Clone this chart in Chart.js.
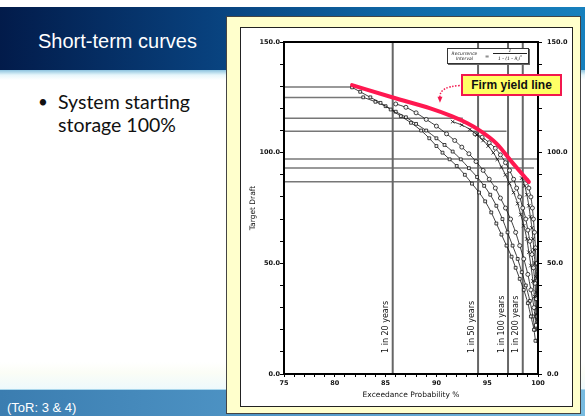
<!DOCTYPE html>
<html lang="en">
<head>
  <meta charset="UTF-8" />
  <title>Short-term curves</title>
  <script src="https://cdn.jsdelivr.net/npm/chart.js@4.4.1/dist/chart.umd.min.js"></script>
  <style>
    html, body { margin: 0; padding: 0; }
    body { width: 585px; height: 416px; position: relative; overflow: hidden; background: #fff; font-family: "Liberation Sans", Arial, sans-serif; }
    .banner { position: absolute; left: 0; top: 7px; width: 585px; height: 63px;
      background: linear-gradient(to right, #021b4a 0%, #08407c 35%, #0f6aa8 70%, #1780bd 100%); }
    .glow { position: absolute; left: 0; top: 70px; width: 585px; height: 10px;
      background: linear-gradient(to bottom, #8cc3de 0%, #e6f6fb 50%, #fff 100%); }
    .title { position: absolute; left: 38px; top: 31px; color: #fff; font-size: 20px; line-height: 20px; }
    .bullets { position: absolute; left: 38px; top: 90px; font-family: Lato, "Open Sans", sans-serif; font-size: 19.5px; line-height: 23px; color: #111; }
    .bullets .dot { position: absolute; left: 0; top: 0; font-size: 17px; }
    .bullets .txt { margin-left: 20px; }
    .fade { position: absolute; left: 0; top: 362px; width: 585px; height: 27px;
      background: linear-gradient(to bottom, #fff 0%, #fbfdf6 40%, #eef9fc 100%); }
    .footer { position: absolute; left: 0; top: 389px; width: 585px; height: 27px;
      background: linear-gradient(to right, #3b7db0 0%, #4f95c6 45%, #78bbe0 100%);
      border-top: 1px solid #a9d6ec; box-sizing: border-box; }
    .footer span { position: absolute; left: 7px; top: 10px; color: #fff; font-size: 13px; line-height: 15px; }
    .panel { position: absolute; left: 226px; top: 16px; width: 355px; height: 398px; box-sizing: border-box;
      background: #ffffcc; border: 1px solid #444; }
    .box { position: absolute; left: 240px; top: 27px; width: 331px; height: 378px; border: 1px solid #222; background: #fff; }
    .box canvas { display: block; }
    .firm { position: absolute; left: 461px; top: 74px; width: 101px; height: 22px; box-sizing: border-box;
      border: 2px solid #f2184e; background: #ffff66; font-weight: bold; font-size: 12px; line-height: 18px;
      text-align: center; color: #111; }
    .formula { position: absolute; left: 447px; top: 48px; width: 82px; height: 16px; box-sizing: border-box;
      border: 1px solid #333; box-shadow: 1px 1px 0 #666; background: #fff; font-family: "DejaVu Sans", sans-serif;
      font-style: italic; font-size: 4.5px; color: #222; display: flex; align-items: center; }
    .formula .lhs { width: 33px; text-align: center; line-height: 5.5px; }
    .formula .eq { width: 12px; text-align: center; font-size: 5px; }
    .formula .frac { width: 34px; text-align: center; line-height: 5px; }
    .formula .frac .num { border-bottom: 0.6px solid #222; padding: 0 2px; }
  </style>
</head>
<body>
  <div class="banner"></div>
  <div class="glow"></div>
  <div class="title">Short-term curves</div>
  <div class="bullets"><span class="dot">•</span><div class="txt">System starting<br>storage 100%</div></div>
  <div class="fade"></div>
  <div class="footer"><span>(ToR: 3 &amp; 4)</span></div>

  <div class="panel"></div>
  <div class="box"><canvas id="chart" width="331" height="378"></canvas></div>
  <div class="formula">
    <div class="lhs">Recurrence<br>Interval</div>
    <div class="eq">=</div>
    <div class="frac"><div class="num">1</div><div>1 - (1 - R<sub style="font-size:3px">i</sub>)<sup style="font-size:3px">n</sup></div></div>
  </div>
  <div class="firm">Firm yield line</div>

  <script>
  // exceedance probability (%) / target draft pairs
  const curveSquaresLow = [
    [81.7,129.5],[82.5,127.5],[83.5,125],[84.5,122.5],[85.5,119.5],[86.5,116.5],[87.5,113.5],[88.5,110],
    [89.3,106.5],[90,103],[90.6,100],[91.3,97],[92,94],[92.8,90],[93.5,86],[94.2,82],[94.8,78],[95.4,73],
    [95.9,68],[96.4,63],[96.9,58],[97.4,53],[97.8,48],[98.2,43],[98.6,38],[99,32],[99.3,26],[99.6,20],[99.75,15]
  ];
  const curveSquaresMid = [
    [82.8,125],[84,123],[85,121],[86,118.5],[87,116],[88,113],[89,110],[90,106.5],[90.8,103.5],[91.6,100.5],
    [92.4,97],[93.2,93],[94,89],[94.7,85],[95.3,81],[95.9,76],[96.5,70],[97,64],[97.5,58],[98,52],
    [98.4,46],[98.8,40],[99.2,33],[99.5,26],[99.7,20]
  ];
  const curveCirclesUpper = [
    [86,122],[87,120.5],[88,118],[89,115],[90,112],[91,108.5],[91.8,105.5],[92.5,102.5],[93.2,99.5],
    [93.9,96],[94.6,92],[95.2,88],[95.8,84],[96.3,79.5],[96.8,75],[97.3,70],[97.8,64],[98.2,58],
    [98.6,52],[99,45],[99.3,38],[99.6,30],[99.8,22]
  ];
  const curveCrosses = [
    [91.6,114],[92.5,112.5],[93.3,110.5],[94,108],[94.6,105.5],[95.1,103],[95.6,100],[96,97],[96.4,93.5],
    [96.8,90],[97.2,86],[97.6,82],[98,77],[98.3,72],[98.6,67],[98.9,61],[99.1,55],[99.3,49],[99.5,42],
    [99.65,35],[99.8,27],[99.9,20]
  ];
  const curveCirclesMid = [
    [93.8,108.5],[94.5,107],[95.2,104.5],[95.8,102],[96.3,99],[96.8,95.5],[97.2,92],[97.6,88],[97.9,84],
    [98.2,80],[98.5,75],[98.8,70],[99,65],[99.2,60],[99.4,54],[99.55,48],[99.7,41],[99.8,34],[99.9,26]
  ];
  const curveCrossesRight = [
    [98.4,88.5],[98.7,85],[98.9,81],[99.1,76],[99.25,71],[99.4,66],[99.5,61],[99.6,56],[99.7,50],
    [99.78,44],[99.85,37],[99.9,30],[99.95,22]
  ];
  const curveCirclesRight = [
    [98.9,87.5],[99.1,84],[99.3,80],[99.45,75],[99.55,70],[99.65,64],[99.75,57],[99.82,50],[99.88,42],
    [99.93,34],[99.97,25],[99.98,15]
  ];
  const firmYield = [[81.7,130.5],[85.8,124.8],[89.4,120],[91.5,116.5],[93,113.4],[94.1,110.5],[95.9,104.2],[97.5,95.4],[99.1,86.8]];

  // recurrence interval lines (x) and their labels
  const recurrenceX = [85.7, 94.1, 97.05, 98.5];
  const recurrenceLabels = ['1 in 20 years', '1 in 50 years', '1 in 100 years', '1 in 200 years'];
  // horizontal draft levels: [draft, end of line on x]
  const draftLevels = [[129.7,81.7],[124.9,82.8],[115.5,92.6],[109.7,96.9],[97.1,100],[93.1,99.6],[86.9,98.7]];

  const yTicks = [0, 50, 100, 150];
  const xTicks = [75, 80, 85, 90, 95, 100];

  const pts = a => a.map(p => ({ x: p[0], y: p[1] }));
  const tickFont = { family: 'DejaVu Sans', size: 6.5, weight: 'bold' };

  const curve = (data, style, r) => ({
    data: pts(data), showLine: true, cubicInterpolationMode: 'monotone', borderColor: '#111', borderWidth: 0.8,
    pointStyle: style, pointRadius: r, pointBorderWidth: 0.8, pointBorderColor: '#111',
    pointBackgroundColor: 'rgba(255,255,255,0.9)', order: 2
  });

  const datasets = [];
  recurrenceX.forEach(x => datasets.push({
    data: [{ x, y: 0 }, { x, y: 150 }], showLine: true, borderColor: '#666', borderWidth: 2, pointRadius: 0, order: 4
  }));
  draftLevels.forEach(([y, end]) => datasets.push({
    data: [{ x: 75, y }, { x: end, y }], showLine: true, borderColor: '#777', borderWidth: 1.5, pointRadius: 0, order: 4
  }));
  datasets.push(curve(curveSquaresLow, 'rect', 2));
  datasets.push(curve(curveSquaresMid, 'rect', 2));
  datasets.push(curve(curveCirclesUpper, 'circle', 2));
  datasets.push(curve(curveCrosses, 'crossRot', 2.5));
  datasets.push(curve(curveCirclesMid, 'circle', 2));
  datasets.push(curve(curveCrossesRight, 'crossRot', 2.5));
  datasets.push(curve(curveCirclesRight, 'circle', 2));
  datasets.push({
    data: pts(firmYield), showLine: true, cubicInterpolationMode: 'monotone', borderColor: '#ff1850', borderWidth: 4,
    pointRadius: 0, borderCapStyle: 'round', order: 0
  });

  const extras = {
    id: 'extras',
    afterDatasetsDraw(chart) {
      const { ctx, chartArea: a, scales: { x, y } } = chart;
      ctx.save();
      ctx.strokeStyle = '#000'; ctx.lineWidth = 2;
      ctx.strokeRect(a.left, a.top, a.right - a.left, a.bottom - a.top);
      // rotated recurrence labels
      ctx.fillStyle = '#111'; ctx.font = '8px "DejaVu Sans"';
      ctx.textAlign = 'left'; ctx.textBaseline = 'middle';
      recurrenceX.forEach((v, i) => {
        ctx.save();
        ctx.translate(x.getPixelForValue(v) - 6.5, y.getPixelForValue(9.5));
        ctx.rotate(-Math.PI / 2);
        ctx.fillText(recurrenceLabels[i], 0, 0);
        ctx.restore();
      });
      // dotted arrow from the firm yield label
      const x0 = x.getPixelForValue(92.3), y0 = y.getPixelForValue(130.3);
      const x1 = x.getPixelForValue(90.35), y1 = y.getPixelForValue(123);
      ctx.strokeStyle = '#f2184e'; ctx.lineWidth = 1.5; ctx.setLineDash([1.5, 1.5]);
      ctx.beginPath(); ctx.moveTo(x0, y0);
      ctx.quadraticCurveTo(x1 - 1, y0 + 1, x1, y1 - 4); ctx.stroke();
      ctx.setLineDash([]); ctx.fillStyle = '#f2184e';
      ctx.beginPath(); ctx.moveTo(x1 - 2.5, y1 - 5); ctx.lineTo(x1 + 2.5, y1 - 5); ctx.lineTo(x1, y1 + 1); ctx.closePath(); ctx.fill();
      ctx.restore();
    }
  };

  new Chart(document.getElementById('chart'), {
    type: 'scatter',
    data: { datasets },
    options: {
      responsive: false, animation: false,
      layout: { padding: { top: 14, right: 0, left: 0, bottom: 0 } },
      plugins: { legend: { display: false }, tooltip: { enabled: false } },
      scales: {
        x: {
          type: 'linear', min: 75, max: 100,
          afterFit: s => { s.height = 32; },
          border: { color: '#000', width: 2 },
          grid: { drawOnChartArea: false, color: '#000', tickLength: 3 },
          ticks: { stepSize: 1, autoSkip: false, maxRotation: 0, padding: 2, color: '#111', font: tickFont,
            callback: v => xTicks.includes(v) ? String(v) : '' },
          title: { display: true, text: 'Exceedance Probability %', color: '#111',
            font: { family: 'DejaVu Sans', size: 7.5 }, padding: { top: 0, bottom: 6 } }
        },
        y: {
          type: 'linear', min: 0, max: 150, position: 'left',
          afterFit: s => { s.width = 43; },
          border: { color: '#000', width: 2 },
          grid: { drawOnChartArea: false, color: '#000', tickLength: 4 },
          ticks: { stepSize: 10, autoSkip: false, padding: 0, color: '#111', font: tickFont,
            callback: v => yTicks.includes(v) ? v.toFixed(1) : '' },
          title: { display: true, text: 'Target Draft', color: '#111',
            font: { family: 'DejaVu Sans', size: 7.5 }, padding: { top: 8, bottom: 0 } }
        },
        y2: {
          type: 'linear', min: 0, max: 150, position: 'right',
          afterFit: s => { s.width = 34; },
          border: { color: '#000', width: 2 },
          grid: { drawOnChartArea: false, color: '#000', tickLength: 4 },
          ticks: { stepSize: 10, autoSkip: false, padding: 5, color: '#111', font: tickFont,
            callback: v => yTicks.includes(v) ? v.toFixed(1) : '' }
        }
      }
    },
    plugins: [extras]
  });
  </script>
</body>
</html>
